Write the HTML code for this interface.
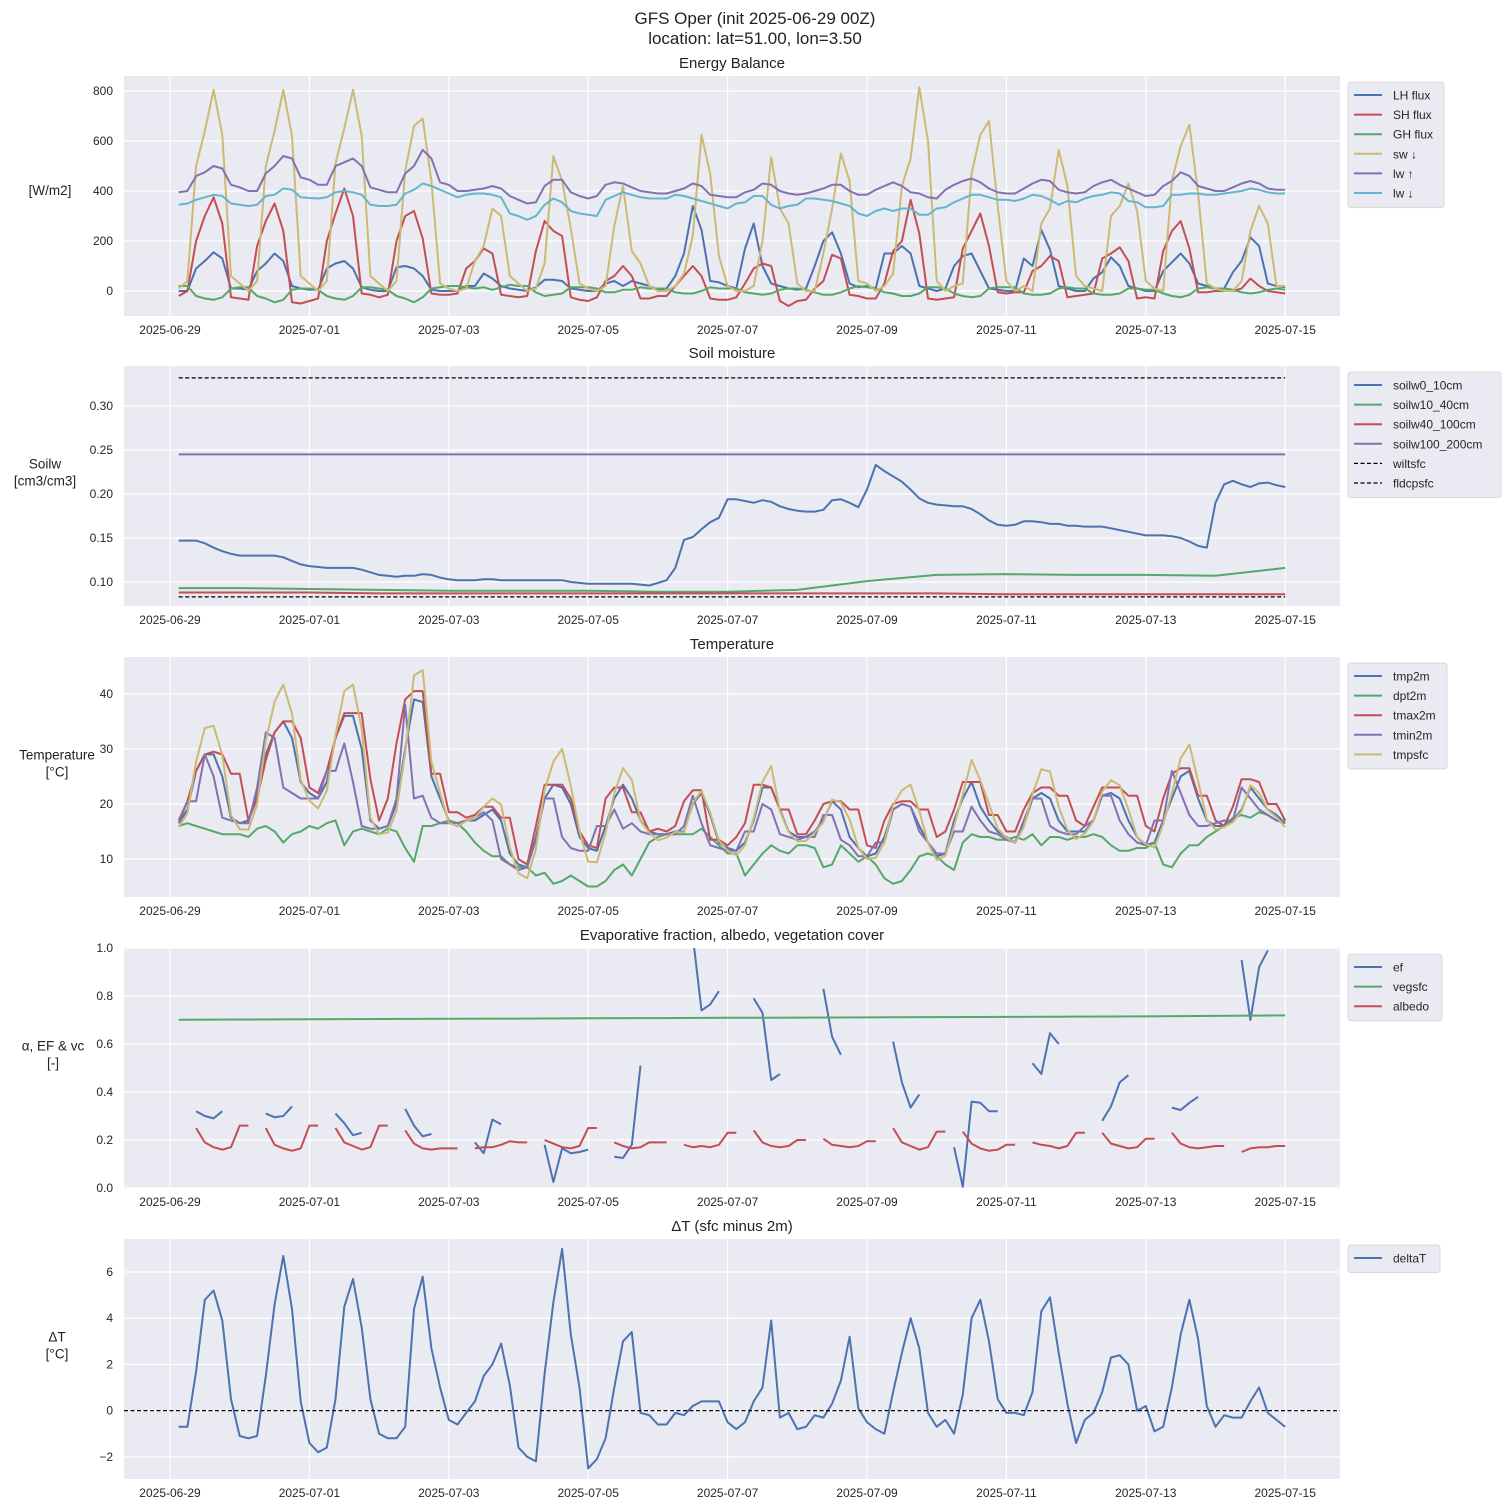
<!DOCTYPE html>
<html><head><meta charset="utf-8"><style>
body{margin:0;background:#fff;}
svg{display:block;font-family:"Liberation Sans","DejaVu Sans",sans-serif;}
</style></head><body>
<svg id="chart" width="1511" height="1511" viewBox="0 0 1511 1511" xmlns="http://www.w3.org/2000/svg">
<rect width="1511" height="1511" fill="#fff"/>
<text x="755" y="24" text-anchor="middle" font-size="17" fill="#222">GFS Oper (init 2025-06-29 00Z)</text>
<text x="755" y="44" text-anchor="middle" font-size="17" fill="#222">location: lat=51.00, lon=3.50</text>
<g id="plots"></g>
</svg>
<script>
// ---------- data (3-hourly, 06-29 03Z .. 07-15 00Z) ----------
const xTickLabels=["2025-06-29","2025-07-01","2025-07-03","2025-07-05","2025-07-07","2025-07-09","2025-07-11","2025-07-13","2025-07-15"];
const xTickDays=[0,2,4,6,8,10,12,14,16];

const lhFlux=[0,0,90,120,155,130,10,10,5,80,110,150,120,20,10,5,5,90,110,120,90,15,5,0,0,95,100,90,60,5,0,0,0,20,20,70,50,20,10,5,0,15,45,45,40,10,5,0,0,30,40,20,40,30,20,5,10,60,150,340,245,40,35,20,10,170,270,100,30,20,10,5,10,100,200,235,150,30,15,20,10,150,150,180,150,20,10,0,10,100,140,150,80,10,5,0,0,130,100,245,165,20,10,0,0,50,75,135,100,20,10,0,0,80,115,150,110,30,20,10,10,75,120,215,180,30,20,15];
const shFlux=[-20,0,200,300,375,270,-25,-30,-35,180,280,350,240,-45,-50,-40,-30,200,310,410,300,-10,-15,-25,-15,200,300,320,210,-10,-15,-15,-10,90,120,170,150,-15,-20,-25,-20,160,280,240,220,-25,-35,-40,-25,40,60,100,60,-30,-30,-20,-20,20,60,100,60,-30,-35,-35,-25,30,90,110,100,-40,-60,-40,-35,10,40,145,130,-15,-20,-30,-30,30,160,200,365,230,-30,-35,-30,-25,170,240,310,180,-5,-10,-5,-5,80,100,140,120,-25,-20,-15,-10,130,150,175,120,-30,-25,-30,160,240,280,170,-5,-5,0,0,0,10,50,20,0,-5,-10];
const ghFlux=[20,20,-20,-30,-35,-25,10,15,15,-20,-30,-45,-35,5,10,10,5,-20,-30,-35,-20,15,15,10,5,-20,-30,-45,-25,10,15,20,20,15,10,15,5,15,25,20,20,-5,-20,-15,-10,15,15,15,10,-5,-5,5,5,15,10,10,10,-5,-10,-10,0,15,10,10,10,-5,-10,-15,-10,5,10,10,5,-5,-15,-15,-5,10,20,15,10,-5,-10,-20,-20,-10,15,15,10,-10,-20,-25,-20,10,15,15,15,-10,-15,-15,-10,10,15,10,10,-10,-15,-15,-10,10,10,5,5,-10,-20,-25,-15,10,15,10,10,5,-5,-10,-5,5,10,5];
const swDown=[10,40,500,640,805,625,60,30,0,40,500,640,805,620,60,30,0,40,510,650,805,620,60,30,0,40,480,660,690,440,30,10,0,10,120,180,330,300,60,30,0,10,110,540,440,250,30,10,0,20,260,420,160,110,20,0,0,20,70,220,625,470,140,20,0,0,20,200,535,330,270,30,0,0,150,330,550,440,40,30,0,20,70,420,530,815,600,40,0,20,30,470,625,680,340,40,0,20,0,270,330,565,420,60,20,10,0,300,340,430,320,40,10,0,440,580,665,390,30,10,0,0,40,240,340,270,20,20];
const lwUp=[395,400,460,475,500,490,425,415,400,400,470,500,540,530,455,445,425,425,500,515,530,500,415,405,395,395,470,500,565,530,435,425,400,400,405,410,420,410,380,365,350,355,420,445,445,395,380,370,380,425,435,430,415,400,395,390,390,400,410,430,420,385,380,375,375,395,405,430,425,400,390,385,390,400,410,425,425,400,385,385,405,420,435,420,395,390,375,370,405,425,440,450,435,410,395,390,390,410,430,445,440,405,395,390,395,420,435,445,425,410,395,380,385,420,440,475,460,420,410,400,400,415,430,440,430,410,405,405];
const lwDown=[345,350,365,375,385,380,350,345,340,345,380,385,410,405,375,372,370,375,395,400,395,385,345,340,340,345,390,405,430,420,405,390,375,385,390,390,385,375,310,300,285,300,345,370,355,320,310,305,300,365,380,395,385,375,370,370,370,385,380,370,360,350,340,330,350,355,380,380,345,330,340,345,370,370,365,360,350,340,310,300,320,330,320,330,330,305,305,330,335,355,370,385,385,375,365,365,360,370,385,380,365,345,360,355,370,380,385,395,390,360,355,335,335,340,385,385,390,390,385,385,390,395,400,410,405,395,390,390];

const soil0=[.147,.147,.147,.144,.139,.135,.132,.130,.130,.130,.130,.130,.128,.124,.120,.118,.117,.116,.116,.116,.116,.114,.111,.108,.107,.106,.107,.107,.109,.108,.105,.103,.102,.102,.102,.103,.103,.102,.102,.102,.102,.102,.102,.102,.102,.100,.099,.098,.098,.098,.098,.098,.098,.097,.096,.099,.102,.116,.148,.151,.160,.168,.173,.194,.194,.192,.190,.193,.191,.186,.183,.181,.180,.180,.182,.193,.194,.190,.185,.205,.233,.226,.220,.214,.205,.195,.190,.188,.187,.186,.186,.183,.177,.170,.165,.164,.165,.169,.169,.168,.166,.166,.164,.164,.163,.163,.163,.161,.159,.157,.155,.153,.153,.153,.152,.150,.146,.141,.139,.190,.211,.215,.211,.208,.212,.213,.210,.208];
// daily values (day 0..16)
const soil10=[.093,.093,.092,.091,.090,.090,.090,.089,.089,.091,.101,.108,.109,.108,.108,.107,.116];
const soil40=[.088,.088,.088,.087,.087,.087,.087,.087,.087,.087,.087,.087,.086,.086,.086,.086,.086];
const soil100=[.245,.245,.245,.245,.245,.245,.245,.245,.245,.245,.245,.245,.245,.245,.245,.245,.245];
const wiltsfc=[.083,.083];
const fldcpsfc=[.332,.332];

const tmp2m=[16.5,19,26,29,29,25,17.5,16.5,17,22,29,33,35,32,24,22,21,24,32,36,36,30,17,15.5,16,20,30,39,38.5,25,21,17,16.5,17,17,18,19,17,11,9,8.5,14,21,23.5,23,20,14,12,11.5,16,21,23.5,21,17,15,14.5,14.5,15,15,20,22,18,13,12,11.5,13,17,23,23,19,15,14,14,15,17,20.5,19,14,12,10.5,11,14,19,20,19.5,16,13,10.5,11,17,21,24,19.5,17,15,14,13,16,21,22,21,17,15,15,15,17,21.5,22,21,17,14,12.5,13,17,21,25,26,21,17,16,16,17,19,23,21,19,18,16.5];
const dpt2m=[16,16.5,16,15.5,15,14.5,14.5,14.5,14,15.5,16,15,13,14.5,15,16,15.5,16.5,17,12.5,15,15.5,15,14.5,15.5,15,12,9.5,16,16,16.5,17,16.5,15,13,11.5,10.5,10.5,9,8.5,8.5,7,7.5,5.5,6,7,6,5,5,6,8,9,7,10,13,14,14.5,14.5,14.5,14.5,15.5,14,12.5,11,11,7,9,11,12.5,11.5,11,12.5,12.5,12,8.5,9,12.5,11,9.5,10.5,9,6.5,5.5,6,8,10.5,11,10.5,9,8,13,14.5,14,14,13.5,13.5,14,13.5,14.5,12.5,14,14,13.5,14,14,14.5,14,12.5,11.5,11.5,12,12,13,9,8.5,11,12.5,12.5,14,15,16,17.5,18,17.5,18.5,18,17,17];
const tmax2m=[17,20.5,26,29,29.5,29,25.5,25.5,17,21,28,33,35,35,32,23,22,26,32,36.5,36.5,36.5,24.5,17,21,31,39,40.5,40.5,25.5,25.5,18.5,18.5,17.5,18,19.5,19.5,17.5,17.5,10,9,16,23.5,23.5,23.5,21,15,12.5,12,21,23,23,18.5,18.5,15,15.5,15,16,20.5,22.5,22.5,13.5,13.5,12.5,14,16.5,23.5,23.5,23,19,19,14.5,14.5,17,20,20.5,20.5,19,19,12.5,12,17,20,20.5,20.5,19,19,14,15,19,24,24,24,18,18,15,15,19,22,23,23,21.5,21.5,17,16,19.5,23,23,23,21.5,21.5,16,15,21,25.5,26.5,26.5,21.5,21.5,17,16,19.5,24.5,24.5,24,20,20,17];
const tmin2m=[16.5,20.5,20.5,29,25,17.5,17,16.5,16.5,23,33,32,23,22,21,21,21,26,26,31,24,16,15.5,15.5,16,21,38,21,21.5,17.5,16.5,16.5,16.5,17,17.5,18.5,17,10,9,8,8.5,13.5,21,21,14,12,11.5,11.5,16,16,19,15.5,16.5,15,14.5,14.5,14.5,14.5,16,21.5,16.5,12.5,12,11.5,11.5,15,15,20,19,14.5,14,13.5,14,14,18,18,13.5,12.5,10.5,10.5,13,13,19,20,19.5,15,13,11,11,15,15,19.5,17,15,14.5,13.5,13,17,21,21,16,15,14.5,14.5,16,17,21.5,21.5,17,14.5,13,12.5,17,17,26,22,18,16,16,16.5,17,17,23,21,19,18,17,16.5];
const tmpsfc=[15.8,18.3,27.7,33.8,34.2,28.9,18,15.4,15.3,19.9,31.5,38.6,41.7,36.4,24.4,20.6,19.2,22.4,32.5,40.5,41.7,33.6,17.5,14.5,14.8,18.8,29.3,43.4,44.3,27.7,22,16.6,15.9,16.9,17.4,19.5,21,19.9,12.1,7.4,6.5,11.8,22.6,27.7,30,23.3,15,9.5,9.4,14.8,22,26.5,24.4,16.9,14.8,13.4,13.9,14.9,14.8,20.2,22.4,18.4,13.4,11.5,10.7,12.5,17.4,24,26.9,18.7,14.9,13.2,13.3,14.8,16.7,20.8,20.3,17.2,12.1,10,10.2,13,19.8,22.5,23.5,18.7,12.9,9.8,10.6,16,21.7,28,24.3,20,15.5,13.9,12.9,15.8,21.8,26.3,25.9,19.5,15.3,13.6,14.6,16.9,22.3,24.3,23.4,19,14,12.7,12.1,16.3,22,28.3,30.8,24.1,17.2,15.3,15.8,16.7,18.7,23.4,22,18.9,17.6,15.8];

const ef=[null,null,.32,.30,.29,.32,null,null, null,null,.31,.295,.30,.34,null,null, null,null,.31,.27,.22,.23,null,null, null,null,.33,.26,.215,.225,null,null, null,null,.19,.145,.285,.265,null,null, null,null,.18,.025,.165,.145,.15,.16, null,null,.13,.125,.18,.51,null,null, null,null,null,1.05,.74,.765,.82,null, null,null,.79,.73,.45,.475,null,null, null,null,.83,.63,.555,null,null,null, null,null,.61,.44,.335,.39,null,null, null,.17,.005,.36,.355,.32,.32,null, null,null,.52,.475,.645,.6,null,null, null,null,.28,.34,.44,.47,null,null, null,null,.335,.325,.355,.38,null,null, null,null,.95,.70,.92,.99,null,null];
const albedo=[null,null,.25,.19,.17,.16,.17,.26, .26,null,.25,.18,.165,.155,.165,.26, .26,null,.25,.19,.175,.16,.17,.26, .26,null,.24,.185,.165,.16,.165,.165, .165,null,.165,.17,.17,.18,.195,.19, .19,null,.2,.185,.17,.165,.175,.25, .25,null,.19,.175,.165,.17,.19,.19, .19,null,.18,.17,.175,.17,.18,.23, .23,null,.24,.19,.175,.17,.175,.2, .2,null,.205,.18,.175,.17,.175,.195, .195,null,.25,.19,.175,.16,.17,.235, .235,null,.235,.185,.165,.155,.16,.18, .18,null,.19,.18,.175,.165,.175,.23, .23,null,.23,.185,.175,.165,.17,.205, .205,null,.23,.185,.17,.165,.17,.175, .175,null,.15,.165,.17,.17,.175,.175];
const vegsfc=[.701,.702,.703,.704,.705,.706,.707,.708,.709,.710,.711,.712,.713,.714,.715,.717,.719];

const deltaT=[-0.7,-0.7,1.7,4.8,5.2,3.9,0.5,-1.1,-1.2,-1.1,1.5,4.6,6.7,4.4,0.4,-1.4,-1.8,-1.6,0.5,4.5,5.7,3.6,0.5,-1.0,-1.2,-1.2,-0.7,4.4,5.8,2.7,1.0,-0.4,-0.6,-0.1,0.4,1.5,2.0,2.9,1.1,-1.6,-2.0,-2.2,1.6,4.7,7.0,3.3,1.0,-2.5,-2.1,-1.2,1.0,3.0,3.4,-0.1,-0.2,-0.6,-0.6,-0.1,-0.2,0.2,0.4,0.4,0.4,-0.5,-0.8,-0.5,0.4,1.0,3.9,-0.3,-0.1,-0.8,-0.7,-0.2,-0.3,0.3,1.3,3.2,0.1,-0.5,-0.8,-1.0,0.8,2.5,4.0,2.7,-0.1,-0.7,-0.4,-1.0,0.7,4.0,4.8,3.0,0.5,-0.1,-0.1,-0.2,0.8,4.3,4.9,2.5,0.3,-1.4,-0.4,-0.1,0.8,2.3,2.4,2.0,0.0,0.2,-0.9,-0.7,1.0,3.3,4.8,3.1,0.2,-0.7,-0.2,-0.3,-0.3,0.4,1.0,-0.1,-0.4,-0.7];

// ---------- drawing ----------
const NS="http://www.w3.org/2000/svg";
const root=document.getElementById('plots');
const C={blue:"#4c72b0",red:"#c44e52",green:"#55a868",gold:"#ccb974",purple:"#8172b2",cyan:"#64b5cd"};
const X0=124,X1=1340;
function xs(d){return 170+d*69.7;}
function t3(i){return (i+1)*0.125;}
function tD(i){return Math.max(i,0.125);}
function mk(tag,attrs,parent){const e=document.createElementNS(NS,tag);for(const k in attrs)e.setAttribute(k,attrs[k]);(parent||root).appendChild(e);return e;}

function panel(cfg){
  const g=mk('g',{});
  
  
  const top=cfg.top,bot=cfg.top+240;
  const ys=v=>bot-(v-cfg.ymin)/(cfg.ymax-cfg.ymin)*(bot-top);
  const bg=mk('rect',{x:X0,y:top,width:X1-X0,height:bot-top,fill:"#eaeaf2"},g);
  
  
  xTickDays.forEach((d,i)=>{
    mk('line',{x1:xs(d),x2:xs(d),y1:top,y2:bot,stroke:"#fff","stroke-width":1.2},g);
    const t=mk('text',{x:xs(d),y:bot+18,"text-anchor":"middle","font-size":12,fill:"#262626"},g);
    t.textContent=xTickLabels[i];
    
    
  });
  cfg.yticks.forEach((v,i)=>{
    mk('line',{x1:X0,x2:X1,y1:ys(v),y2:ys(v),stroke:"#fff","stroke-width":1.2},g);
    const t=mk('text',{x:113,y:ys(v)+4,"text-anchor":"end","font-size":12,fill:"#262626"},g);
    t.textContent=cfg.ylabels[i];
    
    
  });
  const ti=mk('text',{x:732,y:top-8,"text-anchor":"middle","font-size":15,fill:"#222"},g);
  ti.textContent=cfg.title;
  
  
  const n=cfg.ytitle.length;
  const cy=n>1?top+106:top+114;
  cfg.ytitle.forEach((s,i)=>{
    const t=mk('text',{x:cfg.ytx,y:cy+(i-(n-1)/2)*17+5,"text-anchor":"middle","font-size":13.5,fill:"#222"},g);
    t.textContent=s;
    
    
  });
  const clipId='clip'+cfg.name;
  const cp=mk('clipPath',{id:clipId},g);mk('rect',{x:X0,y:top,width:X1-X0,height:bot-top},cp);
  const sg=mk('g',{'clip-path':`url(#${clipId})`},g);
  cfg.series.forEach(s=>{
    let d="",pen=false;
    s.data.forEach((v,i)=>{
      if(v===null||v===undefined){pen=false;return;}
      const t=s.tf?s.tf(i):t3(i);
      d+=(pen?"L":"M")+xs(t).toFixed(1)+","+ys(v).toFixed(1);pen=true;
    });
    const p=mk('path',{d:d,fill:"none",stroke:s.color,"stroke-width":s.dash?1.3:2,"stroke-linejoin":"round","stroke-dasharray":s.dash?"4,2.5":"none"},sg);
    
    
  });
  if(cfg.zero){
    const z=mk('line',{x1:X0,x2:X1,y1:ys(0),y2:ys(0),stroke:"#000","stroke-width":1.2,"stroke-dasharray":"4,2.5"},sg);
    
    
  }
  const lg=mk('g',{},g);
  
  
  const lh=cfg.series.length*19.6+8;
  mk('rect',{x:1348,y:top+6,width:cfg.legW,height:lh,fill:"#eaeaf2",stroke:"#d8d8d8",rx:3},lg);
  cfg.series.forEach((s,i)=>{
    const yy=top+19+i*19.6;
    mk('line',{x1:1354,x2:1382,y1:yy,y2:yy,stroke:s.color,"stroke-width":s.dash?1.3:2,"stroke-dasharray":s.dash?"4,2.5":"none"},lg);
    const t=mk('text',{x:1393,y:yy+4.5,"font-size":12,fill:"#262626"},lg);
    t.textContent=s.label;
    
    
  });
}

panel({name:"energy",top:76,ymin:-100,ymax:860,yticks:[0,200,400,600,800],ylabels:["0","200","400","600","800"],title:"Energy Balance",ytitle:["[W/m2]"],ytx:50,legW:96,
 series:[{key:"lh",label:"LH flux",color:C.blue,data:lhFlux},{key:"sh",label:"SH flux",color:C.red,data:shFlux},{key:"gh",label:"GH flux",color:C.green,data:ghFlux},{key:"sw",label:"sw ↓",color:C.gold,data:swDown},{key:"lwup",label:"lw ↑",color:C.purple,data:lwUp},{key:"lwdown",label:"lw ↓",color:C.cyan,data:lwDown}]});
panel({name:"soil",top:366,ymin:0.0727,ymax:0.3455,yticks:[.10,.15,.20,.25,.30],ylabels:["0.10","0.15","0.20","0.25","0.30"],title:"Soil moisture",ytitle:["Soilw","[cm3/cm3]"],ytx:45,legW:153,
 series:[{key:"soilw0-10",label:"soilw0_10cm",color:C.blue,data:soil0},{key:"soilw10-40",label:"soilw10_40cm",color:C.green,data:soil10,tf:tD},{key:"soilw40-100",label:"soilw40_100cm",color:C.red,data:soil40,tf:tD},{key:"soilw100-200",label:"soilw100_200cm",color:C.purple,data:soil100,tf:tD},{key:"wiltsfc",label:"wiltsfc",color:"#000",dash:true,data:wiltsfc,tf:i=>i?16:0.125},{key:"fldcpsfc",label:"fldcpsfc",color:"#000",dash:true,data:fldcpsfc,tf:i=>i?16:0.125}]});
panel({name:"temperature",top:657,ymin:3.1,ymax:46.7,yticks:[10,20,30,40],ylabels:["10","20","30","40"],title:"Temperature",ytitle:["Temperature","[°C]"],ytx:57,legW:99,
 series:[{key:"tmp2m",label:"tmp2m",color:C.blue,data:tmp2m},{key:"dpt2m",label:"dpt2m",color:C.green,data:dpt2m},{key:"tmax2m",label:"tmax2m",color:C.red,data:tmax2m},{key:"tmin2m",label:"tmin2m",color:C.purple,data:tmin2m},{key:"tmpsfc",label:"tmpsfc",color:C.gold,data:tmpsfc}]});
panel({name:"evap",top:948,ymin:0,ymax:1,yticks:[0,.2,.4,.6,.8,1],ylabels:["0.0","0.2","0.4","0.6","0.8","1.0"],title:"Evaporative fraction, albedo, vegetation cover",ytitle:["α, EF & vc","[-]"],ytx:53,legW:94,
 series:[{key:"ef",label:"ef",color:C.blue,data:ef},{key:"vegsfc",label:"vegsfc",color:C.green,data:vegsfc,tf:tD},{key:"albedo",label:"albedo",color:C.red,data:albedo}]});
panel({name:"deltat",top:1239,ymin:-2.96,ymax:7.43,yticks:[-2,0,2,4,6],ylabels:["−2","0","2","4","6"],title:"ΔT (sfc minus 2m)",ytitle:["ΔT","[°C]"],ytx:57,legW:92,zero:true,
 series:[{key:"deltat",label:"deltaT",color:C.blue,data:deltaT}]});
</script>
</body></html>
